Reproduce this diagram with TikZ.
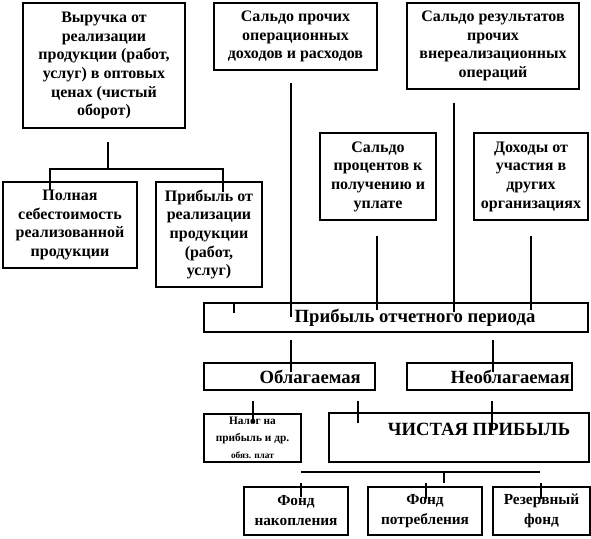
\documentclass[tikz,border=0pt]{standalone}
\usepackage{fontspec}
\setmainfont{Liberation Serif}

\begin{document}
\begin{tikzpicture}[x=0.75pt,y=-0.75pt,
    box/.style 2 args={draw,line width=0.8pt,inner sep=0pt,align=center,
      minimum width=#1,minimum height=#2,
      font=\fontsize{12}{14}\selectfont\bfseries},
    bigfont/.style={font=\fontsize{14}{16}\selectfont\bfseries},
    fundfont/.style={font=\fontsize{11.5}{15}\selectfont\bfseries},
    link/.style={line width=0.8pt}]
  \useasboundingbox (0,0) rectangle (591,538);

  % upper row
  \node[box={121.5pt}{93.75pt}] (vyr) at (104,65.5) {Выручка от\\ реализации\\ продукции (работ,\\ услуг) в оптовых\\ ценах (чистый\\ оборот)};
  \node[box={122.25pt}{50.25pt}] (saldoop) at (295.5,36.5) {Сальдо прочих\\ операционных\\ доходов и расходов};
  \node[box={129pt}{64.5pt}] (saldovn) at (493,46) {Сальдо результатов\\ прочих\\ внереализационных\\ операций};
  \node[box={100.5pt}{64.5pt}] (sebest) at (70,225) {Полная\\ себестоимость\\ реализованной\\ продукции};
  \node[box={79.5pt}{78.75pt}] (pribreal) at (209,234.5) {Прибыль от\\ реализации\\ продукции\\ (работ,\\ услуг)};
  \node[box={87pt}{65.25pt}] (proc) at (378,176.5) {Сальдо\\ процентов к\\ получению и\\ уплате};
  \node[box={85.5pt}{65.25pt}] (uch) at (531,176.5) {Доходы от\\ участия в\\ других\\ организациях};

  % profit
  \node[box={288pt}{21.75pt},bigfont] (otch) at (396,317.5) {\hspace*{28.5pt}Прибыль отчетного периода};
  \node[box={128.25pt}{20.25pt},bigfont] (obl) at (289.5,376.5) {\hspace*{31pt}Облагаемая};
  \node[box={123.75pt}{20.25pt},bigfont] (neobl) at (489.5,376.5) {\hspace*{31pt}Необлагаемая};
  \node[box={72.75pt}{36pt},font=\fontsize{8.5}{12.75}\selectfont\bfseries] (nalog) at (252.5,438) {Налог на\\ прибыль и др.\\ {\fontsize{7}{10}\selectfont обяз. плат}};
  \node[box={195pt}{36.75pt},bigfont,text depth=13pt] (chist) at (459,437.5) {\hspace*{30pt}ЧИСТАЯ ПРИБЫЛЬ};

  % funds
  \node[box={78pt}{36pt},fundfont] (fnak) at (296,511) {Фонд\\ накопления};
  \node[box={85.5pt}{36pt},fundfont] (fpotr) at (425,511) {Фонд\\ потребления};
  \node[box={72.75pt}{36pt},fundfont] (frez) at (541.5,511) {Резервный\\ фонд};

  % line ends
  \coordinate (vyr1) at (108,142);
  \coordinate (vyr2) at (108,169);
  \coordinate (sebest1) at (50,190);
  \coordinate (pribreal1) at (223,192);
  \coordinate (pribreal2) at (234,302);
  \coordinate (otch1) at (234,313);
  \coordinate (saldoop1) at (291,83);
  \coordinate (otch2) at (291,317);
  \coordinate (saldovn1) at (454,103);
  \coordinate (otch3) at (454,312);
  \coordinate (proc1) at (377,236);
  \coordinate (otch4) at (377,310);
  \coordinate (uch1) at (531,236);
  \coordinate (otch5) at (531,310);
  \coordinate (otch6) at (291,340);
  \coordinate (obl1) at (291,372);
  \coordinate (otch7) at (493,340);
  \coordinate (neobl1) at (493,372);
  \coordinate (obl2) at (253,401);
  \coordinate (nalog1) at (253,423);
  \coordinate (obl3) at (358,401);
  \coordinate (chist1) at (358,423);
  \coordinate (neobl2) at (492,401);
  \coordinate (chist2) at (492,430);
  \coordinate (chist3) at (301,472);
  \coordinate (chist4) at (540,472);
  \coordinate (chist5) at (444,472);
  \coordinate (chist6) at (444,483);
  \coordinate (fnak1) at (301,483);
  \coordinate (fnak2) at (301,497);
  \coordinate (fpotr1) at (426,483);
  \coordinate (fpotr2) at (426,499);
  \coordinate (frez1) at (541,483);
  \coordinate (frez2) at (541,499);

  \draw[link] (vyr1) -- (vyr2);
  \draw[link] (sebest1) |- (vyr2) -| (pribreal1);
  \draw[link] (pribreal2) -- (otch1);
  \draw[link] (saldoop1) -- (otch2);
  \draw[link] (saldovn1) -- (otch3);
  \draw[link] (proc1) -- (otch4);
  \draw[link] (uch1) -- (otch5);
  \draw[link] (otch6) -- (obl1);
  \draw[link] (otch7) -- (neobl1);
  \draw[link] (obl2) -- (nalog1);
  \draw[link] (obl3) -- (chist1);
  \draw[link] (neobl2) -- (chist2);
  \draw[link] (chist3) -- (chist4);
  \draw[link] (chist5) -- (chist6);
  \draw[link] (fnak1) -- (fnak2);
  \draw[link] (fpotr1) -- (fpotr2);
  \draw[link] (frez1) -- (frez2);
\end{tikzpicture}
\end{document}
